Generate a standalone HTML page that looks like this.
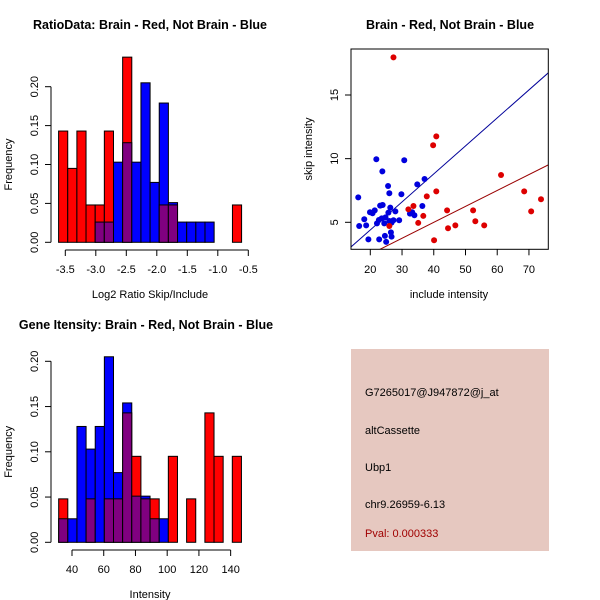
<!DOCTYPE html>
<html><head><meta charset="utf-8"><style>
body{margin:0;background:#fff}
svg{display:block;font-family:"Liberation Sans",sans-serif}
</style></head><body>
<svg id="c" width="600" height="600">
<rect width="600" height="600" fill="#fff"/>
<text x="150" y="29" text-anchor="middle" font-size="12.5" font-weight="bold">RatioData: Brain - Red, Not Brain - Blue</text>
<text x="450" y="29" text-anchor="middle" font-size="12.5" font-weight="bold">Brain - Red, Not Brain - Blue</text>
<text x="146" y="329" text-anchor="middle" font-size="12.5" font-weight="bold">Gene Itensity: Brain - Red, Not Brain - Blue</text>
<g id="h1"></g>
<g id="sc"></g>
<g id="h2"></g>
<g>
<rect x="351" y="349" width="198" height="202" fill="#e6c8c0"/>
<text x="365" y="396" font-size="11">G7265017@J947872@j_at</text>
<text x="365" y="434" font-size="11">altCassette</text>
<text x="365" y="471" font-size="11">Ubp1</text>
<text x="365" y="508" font-size="11">chr9.26959-6.13</text>
<text x="365" y="537" font-size="11" fill="#a00000">Pval: 0.000333</text>
</g>
</svg>
<script>
// Ratio histogram data
const h1Red = [0.143,0.095,0.143,0.048,0.048,0.143,0,0.238,0,0,0,0.048,0.048,0,0,0,0,0,0,0.048];
const h1Blue = [0,0,0,0,0.026,0.026,0.103,0.128,0.103,0.205,0.077,0.179,0.051,0.026,0.026,0.026,0.026,0,0,0];
const h1Start = -3.61, h1Width = 0.15;
const h1XTicks = [-3.5,-3.0,-2.5,-2.0,-1.5,-1.0,-0.5];
const h1XLabels = ["-3.5","-3.0","-2.5","-2.0","-1.5","-1.0","-0.5"];
const hYTicks = [0,0.05,0.10,0.15,0.20];
const hYLabels = ["0.00","0.05","0.10","0.15","0.20"];
// Intensity histogram data
const h2Red = [0.048,0,0,0.048,0,0.048,0.048,0.143,0.095,0.048,0.048,0,0.095,0,0.048,0,0.143,0.095,0,0.095];
const h2Blue = [0.026,0.026,0.128,0.103,0.128,0.205,0.077,0.154,0.051,0.051,0.026,0.026,0,0,0,0,0,0,0,0];
const h2Start = 31.6, h2Width = 5.76;
const h2XTicks = [40,60,80,100,120,140];
const h2XLabels = ["40","60","80","100","120","140"];
// Scatter data
const blueX = [16.2,16.5,18.1,18.7,19.4,19.9,20.7,21.4,21.9,22.1,22.7,22.8,23.1,23.6,23.8,23.9,24.4,24.6,24.8,25.0,25.6,25.7,26.0,26.0,26.3,26.5,26.7,26.7,27.3,27.9,29.1,29.8,30.7,32.5,33.2,33.9,34.8,36.4,37.1];
const blueY = [6.96,4.71,5.24,4.76,3.66,5.79,5.71,5.94,9.95,4.92,5.18,3.66,6.31,5.31,9.0,6.36,4.92,3.93,5.39,3.46,7.85,5.76,7.28,5.1,6.15,4.21,3.87,4.97,5.16,5.86,5.16,7.2,9.87,5.68,5.79,5.55,7.98,6.28,8.4];
const redX = [27.3,26.0,32.0,33.6,35.1,36.7,37.8,39.8,40.8,40.1,40.8,44.2,44.5,46.8,52.4,53.1,55.9,61.2,68.5,70.7,73.8];
const redY = [17.96,4.71,6.02,6.28,4.95,5.5,7.04,11.05,11.75,3.59,7.43,5.94,4.53,4.76,5.94,5.08,4.76,8.72,7.43,5.86,6.81];
const blueSlope = 0.22, redSlope = 0.125;
const scXTicks = [20,30,40,50,60,70];
const scYTicks = [5,10,15];

const NS="http://www.w3.org/2000/svg";
function mk(parent,tag,attrs){const e=document.createElementNS(NS,tag);for(const k in attrs)e.setAttribute(k,attrs[k]);parent.appendChild(e);return e;}

function hist(gid,red,blue,start,width,xs,xf,ys,xTicks,xLabels,axisY,lblY,title,titleY){
  const g=document.getElementById(gid);
  for(let i=0;i<red.length;i++){
    const x0=xs(start+i*width), x1=xs(start+(i+1)*width);
    const r=red[i], b=blue[i], mx=Math.max(r,b), mn=Math.min(r,b);
    if(mx>0){
      const bar=mk(g,'rect',{x:x0,y:ys(mx),width:x1-x0,height:ys(0)-ys(mx),fill:r>=b?'#ff0000':'#0000ff',stroke:'#000','stroke-width':1});
      
      
    }
    if(mn>0){
      const ov=mk(g,'rect',{x:x0,y:ys(mn),width:x1-x0,height:ys(0)-ys(mn),fill:'#800080',stroke:'#000','stroke-width':1});
      
      
    }
  }
  const bx=51;
  mk(g,'line',{x1:bx,y1:ys(0),x2:bx,y2:ys(0.2),stroke:'#000'});
  hYTicks.forEach((v,i)=>{
    mk(g,'line',{x1:bx-6,y1:ys(v),x2:bx,y2:ys(v),stroke:'#000'});
    const t=mk(g,'text',{x:0,y:0,'font-size':11,'text-anchor':'middle',transform:`translate(${bx-13},${ys(v)}) rotate(-90)`});
    t.textContent=hYLabels[i];
    
    
  });
  mk(g,'line',{x1:xs(xTicks[0]),y1:axisY,x2:xs(xTicks[xTicks.length-1]),y2:axisY,stroke:'#000'});
  xTicks.forEach((v,i)=>{
    mk(g,'line',{x1:xs(v),y1:axisY,x2:xs(v),y2:axisY+6,stroke:'#000'});
    const t=mk(g,'text',{x:xs(v),y:lblY,'font-size':11,'text-anchor':'middle'});
    t.textContent=xLabels[i];
    
    
  });
  const yt=mk(g,'text',{x:0,y:0,'font-size':11,'text-anchor':'middle',transform:`translate(12,${(ys(0)+ys(0.2))/2}) rotate(-90)`});
  yt.textContent='Frequency';
  
  
  const xt=mk(g,'text',{x:150,y:titleY,'font-size':11,'text-anchor':'middle'});
  xt.textContent=title;
  
  
}
// Ratio histogram axes
const h1xs=v=>65.3+(v+3.5)*61, h1ys=v=>242.3-v*778;
hist('h1',h1Red,h1Blue,h1Start,h1Width,h1xs,null,h1ys,h1XTicks,h1XLabels,250,273,'Log2 Ratio Skip/Include',298);
// Intensity histogram axes
const h2xs=v=>72+(v-40)*1.5865, h2ys=v=>542.3-v*905;
hist('h2',h2Red,h2Blue,h2Start,h2Width,h2xs,null,h2ys,h2XTicks,h2XLabels,550,573,'Intensity',598);

// Scatter
(function(){
  const g=document.getElementById('sc');
  const L=351,R=548.3,T=49,B=249.3;
  const xs=v=>370.3+(v-20)*3.173, ys=v=>222.3-(v-5)*12.73;
  const xmin=13.9,xmax=76.2,ymin=2.88;
  const cp=mk(g,'clipPath',{id:'scclip'});
  mk(cp,'rect',{x:L,y:T,width:R-L,height:B-T});
  const lines=[[blueSlope,'#000099','blue-fit-line'],[redSlope,'#990000','red-fit-line']];
  lines.forEach(([s,c,n])=>{
    const l=mk(g,'line',{x1:xs(xmin),y1:ys(s*xmin),x2:xs(xmax),y2:ys(s*xmax),stroke:c,'stroke-width':1,'clip-path':'url(#scclip)'});
    
    
  });
  blueX.forEach((x,i)=>{
    const p=mk(g,'circle',{cx:xs(x),cy:ys(blueY[i]),r:3,fill:'#0000dd'});
    
    
  });
  redX.forEach((x,i)=>{
    const p=mk(g,'circle',{cx:xs(x),cy:ys(redY[i]),r:3,fill:'#dd0000'});
    
    
  });
  const f=mk(g,'rect',{x:L,y:T,width:R-L,height:B-T,fill:'none',stroke:'#000'});
  
  
  scXTicks.forEach(v=>{
    mk(g,'line',{x1:xs(v),y1:B,x2:xs(v),y2:B+6,stroke:'#000'});
    const t=mk(g,'text',{x:xs(v),y:273,'font-size':11,'text-anchor':'middle'});
    t.textContent=String(v);
    
    
  });
  scYTicks.forEach(v=>{
    mk(g,'line',{x1:L-6,y1:ys(v),x2:L,y2:ys(v),stroke:'#000'});
    const t=mk(g,'text',{x:0,y:0,'font-size':11,'text-anchor':'middle',transform:`translate(${L-13},${ys(v)}) rotate(-90)`});
    t.textContent=String(v);
    
    
  });
  const xt=mk(g,'text',{x:449,y:298,'font-size':11,'text-anchor':'middle'});
  xt.textContent='include intensity';
  
  
  const yt=mk(g,'text',{x:0,y:0,'font-size':11,'text-anchor':'middle',transform:`translate(312,149) rotate(-90)`});
  yt.textContent='skip intensity';
  
  
})();
</script>
</body></html>
